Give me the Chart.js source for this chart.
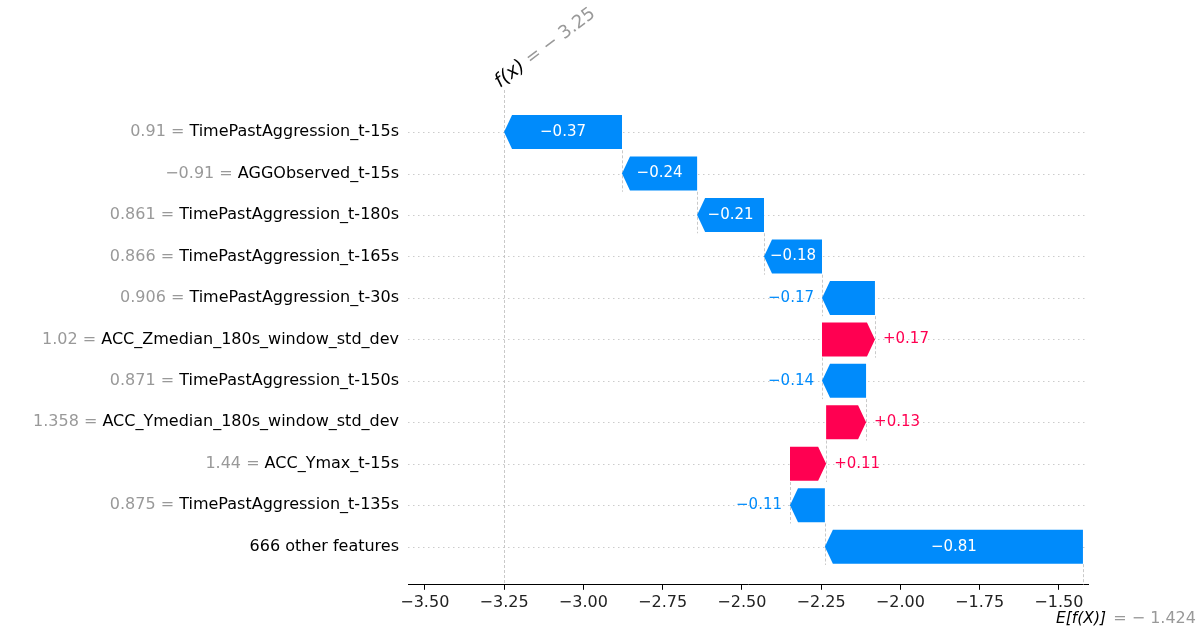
<!DOCTYPE html>
<html>
<head>
<meta charset="utf-8">
<script src="https://cdn.jsdelivr.net/npm/chart.js@4.4.0/dist/chart.umd.min.js"></script>
<style>
  html, body { margin: 0; padding: 0; background: #fff; }
  #wrap { width: 1200px; height: 630px; }
</style>
</head>
<body>
<div id="wrap"><canvas id="chart" width="1200" height="630"></canvas></div>
<script>
// rows, top to bottom
const features = [
    'TimePastAggression_t-15s',
    'AGGObserved_t-15s',
    'TimePastAggression_t-180s',
    'TimePastAggression_t-165s',
    'TimePastAggression_t-30s',
    'ACC_Zmedian_180s_window_std_dev',
    'TimePastAggression_t-150s',
    'ACC_Ymedian_180s_window_std_dev',
    'ACC_Ymax_t-15s',
    'TimePastAggression_t-135s',
    '666 other features'
];
const featureValues = ['0.91', '\u22120.91', '0.861', '0.866', '0.906', '1.02', '0.871', '1.358', '1.44', '0.875', null];
const shapValues = [-0.372, -0.237, -0.211, -0.183, -0.167, 0.167, -0.139, 0.126, 0.114, -0.110, -0.814];
const baseValue = -1.424;
const xTicks = [-3.5, -3.25, -3.0, -2.75, -2.5, -2.25, -2.0, -1.75, -1.5];

const POS = '#ff0051';
const NEG = '#008bfb';
const FONT = "'DejaVu Sans', sans-serif";

// running total: bottom row starts at E[f(X)], top row ends at f(x)
const ranges = new Array(features.length);
let cur = baseValue;
for (let i = features.length - 1; i >= 0; i--) {
    ranges[i] = [cur, cur + shapValues[i]];
    cur += shapValues[i];
}
const fx = cur;

const minus = v => (v < 0 ? '\u2212' : '') + Math.abs(v).toFixed(2);
const signed = v => (v < 0 ? '\u2212' : '+') + Math.abs(v).toFixed(2);

const waterfall = {
    id: 'waterfall',
    beforeDatasetsDraw(chart) {
        const { ctx, chartArea: ca, scales: { x, y } } = chart;
        const sp = y.getPixelForValue(1) - y.getPixelForValue(0);
        ctx.save();
        // dotted row lines
        ctx.strokeStyle = '#cccccc';
        ctx.lineWidth = 1;
        ctx.setLineDash([1.5, 3.5]);
        features.forEach((f, i) => {
            const py = Math.round(y.getPixelForValue(i)) + 0.5;
            ctx.beginPath();
            ctx.moveTo(ca.left, py);
            ctx.lineTo(ca.right, py);
            ctx.stroke();
        });
        // dashed connectors
        ctx.strokeStyle = '#bbbbbb';
        ctx.lineWidth = 0.8;
        ctx.setLineDash([3, 2]);
        const vline = (px, y1, y2) => {
            ctx.beginPath();
            ctx.moveTo(Math.round(px) + 0.5, y1);
            ctx.lineTo(Math.round(px) + 0.5, y2);
            ctx.stroke();
        };
        for (let i = 0; i < features.length - 1; i++) {
            vline(x.getPixelForValue(ranges[i][0]),
                y.getPixelForValue(i) + 0.44 * sp,
                y.getPixelForValue(i + 1) + 0.44 * sp);
        }
        vline(x.getPixelForValue(fx), ca.top, ca.bottom);
        vline(x.getPixelForValue(baseValue), y.getPixelForValue(features.length - 1) + 0.42 * sp, ca.bottom);
        ctx.restore();
    },
    afterDatasetsDraw(chart) {
        const { ctx, scales: { x } } = chart;
        const meta = chart.getDatasetMeta(0);
        ctx.save();
        ctx.font = '15px ' + FONT;
        ctx.textBaseline = 'middle';
        meta.data.forEach((bar, i) => {
            const { y: yc, height: h } = bar.getProps(['y', 'height'], true);
            const start = x.getPixelForValue(ranges[i][0]);
            const end = x.getPixelForValue(ranges[i][1]);
            const dir = end >= start ? 1 : -1;
            const w = Math.abs(end - start);
            const head = Math.min(8, w);
            const top = yc - h / 2, bot = yc + h / 2;
            const color = shapValues[i] >= 0 ? POS : NEG;
            ctx.fillStyle = color;
            ctx.beginPath();
            ctx.moveTo(start, top);
            ctx.lineTo(end - dir * head, top);
            ctx.lineTo(end, yc);
            ctx.lineTo(end - dir * head, bot);
            ctx.lineTo(start, bot);
            ctx.closePath();
            ctx.fill();

            const txt = signed(shapValues[i]);
            const tw = ctx.measureText(txt).width;
            if (w - head > tw + 2) {
                ctx.fillStyle = '#ffffff';
                ctx.textAlign = 'center';
                ctx.fillText(txt, (start + end) / 2, yc);
            } else {
                ctx.fillStyle = color;
                ctx.textAlign = dir > 0 ? 'left' : 'right';
                ctx.fillText(txt, end + dir * 8, yc);
            }
        });
        ctx.restore();
    },
    afterDraw(chart) {
        const { ctx, chartArea: ca, scales: { x, y } } = chart;
        ctx.save();
        // feature labels: grey value, black name
        ctx.font = '16px ' + FONT;
        ctx.textBaseline = 'middle';
        ctx.textAlign = 'right';
        const lx = ca.left - 9;
        features.forEach((f, i) => {
            const py = y.getPixelForValue(i);
            ctx.fillStyle = '#000000';
            ctx.fillText(f, lx, py);
            if (featureValues[i] !== null) {
                const nw = ctx.measureText(f).width;
                ctx.fillStyle = '#999999';
                ctx.fillText(featureValues[i] + ' = ', lx - nw, py);
            }
        });

        // f(x) label, rotated
        ctx.textAlign = 'left';
        ctx.textBaseline = 'alphabetic';
        ctx.translate(x.getPixelForValue(fx) - 4, 88);
        ctx.rotate(-37 * Math.PI / 180);
        ctx.font = 'italic 19px ' + FONT;
        ctx.fillStyle = '#000000';
        ctx.fillText('f(x)', 0, 0);
        const fw = ctx.measureText('f(x)').width;
        ctx.font = '18px ' + FONT;
        ctx.fillStyle = '#999999';
        ctx.fillText(' = \u2212 ' + Math.abs(fx).toFixed(2), fw, 0);
        ctx.setTransform(1, 0, 0, 1, 0, 0);

        // E[f(X)] label under the axis
        const ex = 1056, ey = 623;
        ctx.font = 'italic 15.5px ' + FONT;
        ctx.fillStyle = '#000000';
        ctx.fillText('E[f(X)]', ex, ey);
        const ew = ctx.measureText('E[f(X)]').width;
        ctx.font = '16px ' + FONT;
        ctx.fillStyle = '#999999';
        ctx.fillText(' = \u2212 ' + Math.abs(baseValue).toFixed(3), ex + ew + 2, ey);
        ctx.restore();
    }
};

new Chart(document.getElementById('chart'), {
    type: 'bar',
    data: {
        datasets: [{
            data: features.map((f, i) => ({ x: ranges[i], y: i })),
            backgroundColor: 'rgba(0,0,0,0)',
            borderWidth: 0,
            barThickness: 34
        }]
    },
    options: {
        indexAxis: 'y',
        responsive: false,
        animation: false,
        devicePixelRatio: 1,
        layout: { padding: { left: 408, right: 112, top: 90, bottom: 15 } },
        plugins: { legend: { display: false }, tooltip: { enabled: false } },
        scales: {
            y: {
                type: 'linear',
                display: false,
                offset: false,
                grace: 0,
                reverse: true,
                min: -1.0145,
                max: 10.918
            },
            x: {
                type: 'linear',
                min: -3.553,
                max: -1.408,
                afterBuildTicks: s => { s.ticks = xTicks.map(v => ({ value: v })); },
                grid: { drawOnChartArea: false, drawTicks: true, tickLength: 5, tickColor: '#000000' },
                border: { display: true, color: '#000000', width: 1 },
                ticks: {
                    color: '#222222',
                    font: { family: FONT, size: 16 },
                    padding: 3,
                    autoSkip: false,
                    maxRotation: 0,
                    callback: v => minus(v)
                }
            }
        }
    },
    plugins: [waterfall]
});
</script>
</body>
</html>
